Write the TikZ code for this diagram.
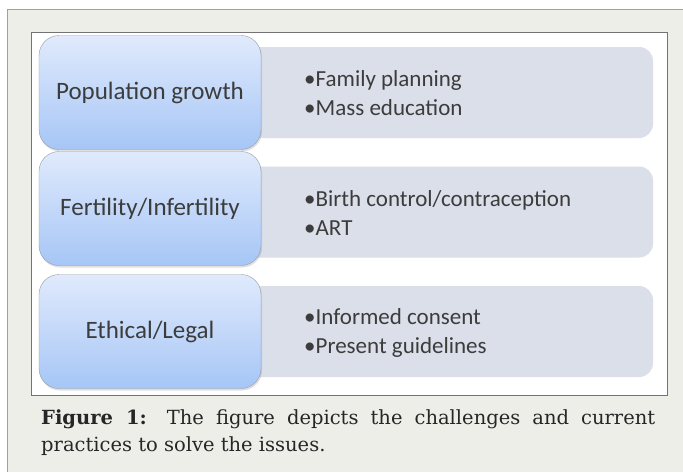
\documentclass[tikz,border=0pt]{standalone}
\usepackage{fontspec}
\setmainfont{DejaVu Serif}
\newfontfamily\labfont{Carlito}
\usetikzlibrary{positioning,shadows}
\usepackage{xcolor}
\definecolor{panelbg}{RGB}{238,238,233}
\definecolor{panelblue}{RGB}{125,165,225}
\definecolor{framegray}{RGB}{115,115,115}
\definecolor{boxtop}{RGB}{224,234,252}
\definecolor{boxbot}{RGB}{166,198,246}
\definecolor{boxline}{RGB}{150,158,168}
\definecolor{itemfill}{RGB}{218,223,233}
\definecolor{txtgray}{RGB}{60,60,60}

\begin{document}
\begin{tikzpicture}[x=1pt,y=-1pt]
\tikzset{
  PN/.style={fill=panelbg,minimum width=675pt,minimum height=462pt,inner sep=0pt},
  FR/.style={draw=framegray,fill=white,minimum width=636pt,minimum height=363pt,inner sep=0pt},
  IT/.style={fill=itemfill,rounded corners=14pt,minimum width=413pt,minimum height=91pt,inner sep=0pt},
  CH/.style={draw=boxline,top color=boxtop,bottom color=boxbot,rounded corners=20pt,minimum width=222pt,minimum height=114pt,inner sep=0pt,font=\labfont\fontsize{25}{29}\selectfont,text=txtgray,drop shadow={opacity=0.25,shadow xshift=1pt,shadow yshift=-2pt}},
  TX/.style={anchor=west,align=left,font=\labfont\fontsize{23}{29}\selectfont,text=txtgray,inner sep=0pt},
  CP/.style={anchor=north west,text width=614pt,align=justify,inner sep=0pt,font=\fontsize{19.5}{27}\selectfont,text=black!85},
}
\useasboundingbox (0,0) rectangle (683,472);

\node[PN](panel) at (345.5,241){};
\draw[panelblue,thick](panel.south west)--(panel.north west)--(panel.north east);
\node[FR](frame) at (349,213.5){};

% right-hand boxes first, the blue ones overlap them
\node[IT](i1) at (446.5, 92.5){};
\node[IT](i2) at (446.5,212.0){};
\node[IT](i3) at (446.5,331.5){};

\node[CH](c1) at (150, 92.5){Population growth};
\node[CH](c2) at (150,208.5){Fertility/Infertility};
\node[CH](c3) at (150,331.5){Ethical/Legal};

\node[TX](t1) at (304, 93.5){•Family planning\\•Mass education};
\node[TX](t2) at (304,213.0){•Birth control/contraception\\•ART};
\node[TX](t3) at (304,332.5){•Informed consent\\•Present guidelines};

\node[CP](cap) at (41,409){\textbf{Figure 1:} The figure depicts the challenges and current\linebreak practices to solve the issues.};

\end{tikzpicture}
\end{document}
